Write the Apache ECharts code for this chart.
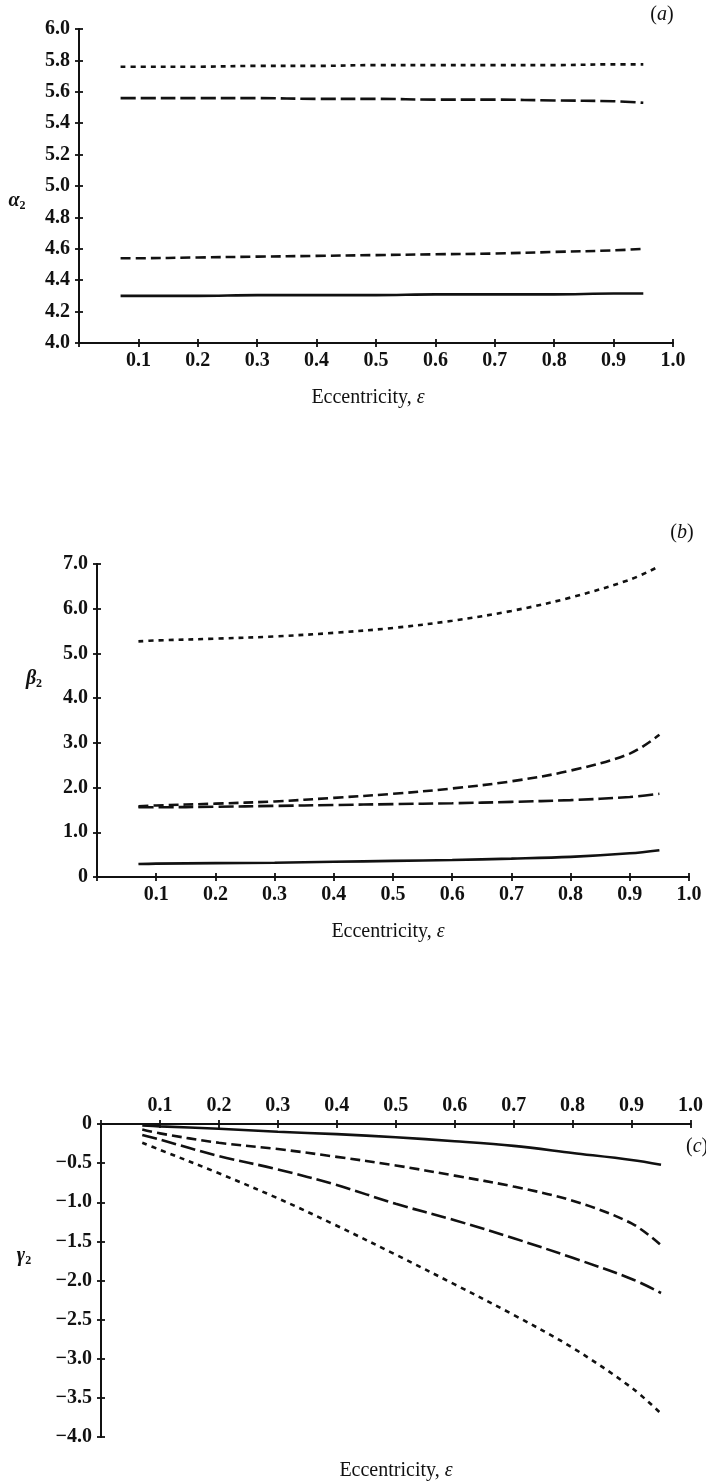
<!DOCTYPE html>
<html>
<head>
<meta charset="utf-8">
<style>
  html, body { margin: 0; padding: 0; background: #fff; }
  #chart { width: 706px; height: 1484px; }
</style>
<script src="https://cdn.jsdelivr.net/npm/echarts@6/dist/echarts.min.js"></script>
</head>
<body>
<div id="chart"></div>
<script>
// Eccentricity sample points shared by all three panels
const eps = [0.07, 0.1, 0.2, 0.3, 0.4, 0.5, 0.6, 0.7, 0.8, 0.9, 0.95];

// Panel (a): alpha_2
const alphaDotted = [5.76, 5.76, 5.76, 5.765, 5.765, 5.77, 5.77, 5.77, 5.77, 5.775, 5.775];
const alphaLong   = [5.56, 5.56, 5.56, 5.56, 5.555, 5.555, 5.55, 5.55, 5.545, 5.54, 5.53];
const alphaMedium = [4.54, 4.54, 4.545, 4.55, 4.555, 4.56, 4.565, 4.57, 4.58, 4.59, 4.60];
const alphaSolid  = [4.30, 4.30, 4.30, 4.305, 4.305, 4.305, 4.31, 4.31, 4.31, 4.315, 4.315];

// Panel (b): beta_2
const betaDotted = [5.27, 5.29, 5.33, 5.38, 5.46, 5.57, 5.73, 5.95, 6.25, 6.65, 6.95];
const betaMedium = [1.58, 1.60, 1.64, 1.69, 1.77, 1.86, 1.98, 2.14, 2.38, 2.76, 3.18];
const betaLong   = [1.56, 1.56, 1.57, 1.59, 1.61, 1.63, 1.65, 1.68, 1.72, 1.79, 1.86];
const betaSolid  = [0.29, 0.30, 0.31, 0.32, 0.34, 0.36, 0.38, 0.41, 0.45, 0.53, 0.60];

// Panel (c): gamma_2
const gammaSolid  = [-0.02, -0.03, -0.06, -0.10, -0.13, -0.17, -0.22, -0.28, -0.37, -0.46, -0.52];
const gammaMedium = [-0.07, -0.12, -0.24, -0.32, -0.42, -0.53, -0.66, -0.80, -0.98, -1.27, -1.55];
const gammaLong   = [-0.14, -0.20, -0.41, -0.58, -0.78, -1.02, -1.23, -1.46, -1.71, -1.98, -2.16];
const gammaDotted = [-0.24, -0.33, -0.63, -0.95, -1.30, -1.67, -2.05, -2.44, -2.86, -3.37, -3.70];

// Axis ranges and tick steps
const alphaRange = { min: 4, max: 6, interval: 0.2 };
const betaRange  = { min: 0, max: 7, interval: 1 };
const gammaRange = { min: -4, max: 0, interval: 0.5 };
const epsRange   = { min: 0, max: 1, interval: 0.1 };

const FONT = '"Liberation Serif", "DejaVu Serif", serif';
const INK = '#111111';
const FS = 20;

const styles = {
  solid:  'solid',
  dotted: [5, 5],
  medium: [10, 5],
  long:   [15, 5]
};

function fmtEps(v) { return v === 0 ? '' : v.toFixed(1); }
function fmtAlpha(v) { return v.toFixed(1); }
function fmtBeta(v) { return v === 0 ? '0' : v.toFixed(1); }
function fmtGamma(v) { return v === 0 ? '0' : '\u2212' + Math.abs(v).toFixed(1); }

// One axis of a pair: the "outer" one carries labels and outward ticks,
// the "inner" one only adds inward ticks so ticks cross the axis line.
function xAxisDef(grid, position, inner) {
  return {
    type: 'value', gridIndex: grid, position: position,
    min: epsRange.min, max: epsRange.max, interval: epsRange.interval,
    axisLine: { show: true, onZero: false, lineStyle: { color: INK, width: 2 } },
    axisTick: { show: true, inside: inner, length: 4, lineStyle: { color: INK, width: 1.8 } },
    splitLine: { show: false },
    axisLabel: {
      show: !inner, margin: 8, color: INK, fontFamily: FONT, fontSize: FS, fontWeight: 'bold',
      formatter: fmtEps, showMinLabel: true, showMaxLabel: true
    }
  };
}
function yAxisDef(grid, range, fmt, inner) {
  return {
    type: 'value', gridIndex: grid, position: 'left',
    min: range.min, max: range.max, interval: range.interval,
    axisLine: { show: true, onZero: false, lineStyle: { color: INK, width: 2 } },
    axisTick: { show: true, inside: inner, length: 4, lineStyle: { color: INK, width: 1.8 } },
    splitLine: { show: false },
    axisLabel: {
      show: !inner, margin: 9, color: INK, fontFamily: FONT, fontSize: FS, fontWeight: 'bold',
      formatter: fmt, showMinLabel: true, showMaxLabel: true
    }
  };
}

function lineSeries(axisIdx, values, type) {
  return {
    type: 'line', xAxisIndex: axisIdx, yAxisIndex: axisIdx,
    data: eps.map((e, i) => [e, values[i]]),
    smooth: 0.35, showSymbol: false, symbol: 'none', silent: true,
    lineStyle: { color: INK, width: 2.6, type: type, cap: 'butt' },
    z: 3
  };
}

const rich = {
  n: { fontFamily: FONT, fontSize: FS, color: INK },
  i: { fontFamily: FONT, fontSize: FS, fontStyle: 'italic', color: INK },
  gi: { fontFamily: FONT, fontSize: 20, fontStyle: 'italic', fontWeight: 'bold', color: INK },
  sub: { fontFamily: FONT, fontSize: 12, fontWeight: 'bold', color: INK, padding: [9, 0, 0, 0] }
};

function label(x, y, text, align) {
  return {
    type: 'text', x: x, y: y, silent: true,
    style: { text: text, rich: rich, align: align || 'center', verticalAlign: 'middle',
             fontFamily: FONT, fontSize: FS, fill: INK }
  };
}

const option = {
  animation: false,
  backgroundColor: '#ffffff',
  grid: [
    { left: 79, right: 33, top: 29, height: 314 },
    { left: 97, right: 17, top: 564, height: 313 },
    { left: 101, right: 13, top: 1124, height: 313 }
  ],
  xAxis: [
    xAxisDef(0, 'bottom', false), xAxisDef(1, 'bottom', false), xAxisDef(2, 'top', false),
    xAxisDef(0, 'bottom', true),  xAxisDef(1, 'bottom', true),  xAxisDef(2, 'top', true)
  ],
  yAxis: [
    yAxisDef(0, alphaRange, fmtAlpha, false), yAxisDef(1, betaRange, fmtBeta, false), yAxisDef(2, gammaRange, fmtGamma, false),
    yAxisDef(0, alphaRange, fmtAlpha, true),  yAxisDef(1, betaRange, fmtBeta, true),  yAxisDef(2, gammaRange, fmtGamma, true)
  ],
  series: [
    lineSeries(0, alphaDotted, styles.dotted),
    lineSeries(0, alphaLong, styles.long),
    lineSeries(0, alphaMedium, styles.medium),
    lineSeries(0, alphaSolid, styles.solid),

    lineSeries(1, betaDotted, styles.dotted),
    lineSeries(1, betaMedium, styles.medium),
    lineSeries(1, betaLong, styles.long),
    lineSeries(1, betaSolid, styles.solid),

    lineSeries(2, gammaSolid, styles.solid),
    lineSeries(2, gammaMedium, styles.medium),
    lineSeries(2, gammaLong, styles.long),
    lineSeries(2, gammaDotted, styles.dotted)
  ],
  graphic: [
    // panel tags
    label(662, 15, '{n|(}{i|a}{n|)}'),
    label(682, 533, '{n|(}{i|b}{n|)}'),
    label(686, 1147, '{n|(}{i|c}{n|)}', 'left'),
    // quantity names
    label(17, 201, '{gi|\u03b1}{sub|2}'),
    label(34, 679, '{gi|\u03b2}{sub|2}'),
    label(24, 1256, '{gi|\u03b3}{sub|2}'),
    // eccentricity titles
    label(368, 398, '{n|Eccentricity, }{i|\u03b5}'),
    label(388, 932, '{n|Eccentricity, }{i|\u03b5}'),
    label(396, 1471, '{n|Eccentricity, }{i|\u03b5}')
  ]
};

const chart = echarts.init(document.getElementById('chart'), null, { renderer: 'canvas' });
chart.setOption(option);
</script>
</body>
</html>
